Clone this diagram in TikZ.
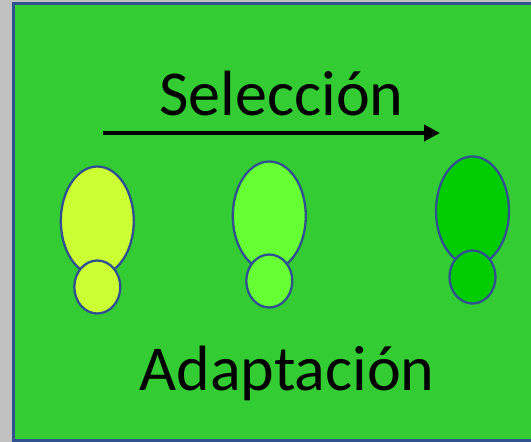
\documentclass[tikz,border=0pt]{standalone}
\usepackage{fontspec}
\setmainfont{Carlito}
\usetikzlibrary{arrows.meta,shapes.geometric}
\definecolor{bgGray}{RGB}{192,192,192}
\definecolor{panelGreen}{RGB}{51,204,51}
\definecolor{edgeBlue}{RGB}{47,82,143}
\definecolor{oneFill}{RGB}{204,255,51}
\definecolor{twoFill}{RGB}{102,255,51}
\definecolor{threeFill}{RGB}{0,204,0}
\tikzset{
  bigblob/.style={ellipse,draw=edgeBlue,line width=2.3pt,inner sep=0pt,minimum width=73pt,minimum height=109pt},
  smallblob/.style={ellipse,draw=edgeBlue,line width=2.3pt,inner sep=0pt,minimum width=46pt,minimum height=53pt},
  caption/.style={font=\fontsize{64}{66}\selectfont,text=black,inner sep=0pt,anchor=base}
}
\begin{document}
\begin{tikzpicture}[x=1pt,y=-1pt]
\useasboundingbox (0,0) rectangle (531,442);
\fill[bgGray] (0,0) rectangle (531,442);
\fill[bgGray!70!edgeBlue] (12,2) rectangle (540,442);
\draw[edgeBlue,line width=3pt,fill=panelGreen] (13.5,3.7) rectangle (545,440.5);
\node[bigblob,fill=oneFill] (a1) at (97.3,221) {};
\node[smallblob,fill=oneFill] (a2) at (97.3,287) {};
\node[bigblob,fill=twoFill] (b1) at (269.3,216) {};
\node[smallblob,fill=twoFill] (b2) at (269.3,281) {};
\node[bigblob,fill=threeFill] (c1) at (472.5,211) {};
\node[smallblob,fill=threeFill] (c2) at (472.5,277) {};
\node[caption] (sel) at (281.5,115) {Selección};
\node[caption] (ada) at (287,390) {Adaptación};
\coordinate (arrowStart) at (103,133);
\coordinate (arrowEnd) at (440,133);
\draw[line width=3.8pt,-{Triangle[length=16pt,width=16pt]}] (arrowStart) -- (arrowEnd);
\end{tikzpicture}
\end{document}
